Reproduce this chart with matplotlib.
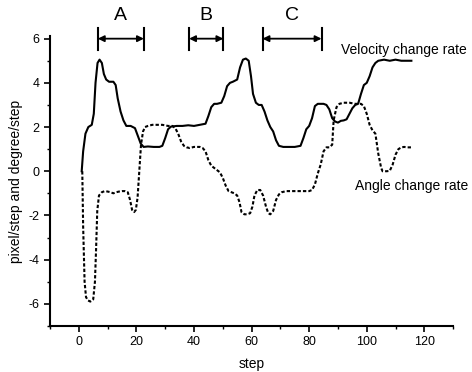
import matplotlib
matplotlib.use("Agg")
import matplotlib.pyplot as plt
from matplotlib.ticker import MultipleLocator

plt.rcParams['font.family'] = ['Liberation Sans', 'DejaVu Sans']
plt.rcParams['axes.unicode_minus'] = False

vel_x = [1, 1.5, 2.3, 3.3, 4.5, 5.2, 5.8, 6.5, 7.2, 8, 8.7, 9.5, 10.5, 12, 12.8, 13.5, 14.5, 15.5,
         16.5, 18, 19.5, 20.5, 21.5, 22.5, 24, 26, 28, 29, 30, 31, 32, 34, 36, 38, 40, 42, 44, 45,
         46, 47, 48, 49.5, 50.5, 51.5, 52.5, 53.5, 55, 56, 57, 58, 59, 59.8, 60.5, 61.5, 62.5, 63.5,
         64.5, 65.5, 66.5, 67.5, 68.5, 69.5, 71, 73, 75, 77, 78, 79, 80, 81, 82, 83, 84, 85, 86, 87,
         88, 89, 90, 91, 92, 93, 94, 95, 96, 97, 98, 99, 100, 101, 102, 103, 104, 106, 108, 110,
         112, 114, 115.5]
vel_y = [0, 0.9, 1.7, 2.0, 2.1, 2.6, 4.0, 4.9, 5.05, 4.9, 4.4, 4.15, 4.05, 4.05, 3.9, 3.3, 2.7, 2.3,
         2.05, 2.05, 1.95, 1.6, 1.25, 1.1, 1.12, 1.1, 1.1, 1.15, 1.5, 1.9, 2.02, 2.05, 2.05, 2.08,
         2.05, 2.1, 2.15, 2.5, 2.9, 3.05, 3.05, 3.1, 3.4, 3.85, 4.0, 4.05, 4.15, 4.7, 5.05, 5.1, 5.0,
         4.3, 3.5, 3.1, 3.0, 3.0, 2.7, 2.3, 2.0, 1.8, 1.4, 1.15, 1.1, 1.1, 1.1, 1.15, 1.5, 1.9, 2.05,
         2.4, 2.95, 3.05, 3.05, 3.05, 3.0, 2.8, 2.4, 2.25, 2.2, 2.28, 2.3, 2.35, 2.6, 2.85, 3.0,
         3.05, 3.5, 3.9, 4.0, 4.3, 4.7, 4.9, 5.0, 5.05, 5.0, 5.05, 5.0, 5.0, 5.0]

ang_x = [1.2, 1.5, 2, 2.5, 3.2, 4, 5, 5.6, 6, 6.4, 7, 8, 9, 10, 11, 12, 13, 14, 15, 16, 17, 17.8,
         18.5, 19.2, 19.8, 20.4, 21, 21.6, 22.3, 23, 24, 25.5, 27, 29, 31, 32.5, 33.5, 34.5, 35.5,
         36.5, 37.5, 38.5, 40, 42, 43, 44, 45, 46, 47, 48, 49, 50, 51, 52, 53, 54, 55, 55.8, 56.5,
         57.5, 58.5, 59.5, 60.3, 61, 62, 63, 64, 65, 65.8, 66.5, 67.5, 68.5, 69.5, 70.5, 72, 74, 76,
         78, 80, 81, 82, 83, 84, 85, 86, 87, 88, 88.5, 89.5, 90.5, 92, 94, 96, 98, 99, 100, 101,
         102, 103, 104, 105, 105.5, 107, 108, 109, 110, 111, 112, 113, 114, 115.5]
ang_y = [0, -2.5, -5.0, -5.7, -5.85, -5.9, -5.8, -5.0, -3.5, -1.8, -1.1, -0.95, -0.9, -0.92, -0.95,
         -1.0, -0.95, -0.92, -0.9, -0.9, -0.95, -1.3, -1.75, -1.85, -1.75, -1.2, 0.0, 1.2, 1.8, 2.0,
         2.05, 2.1, 2.1, 2.1, 2.05, 2.05, 1.95, 1.7, 1.35, 1.15, 1.08, 1.05, 1.1, 1.1, 1.05, 0.9,
         0.5, 0.25, 0.15, 0.05, -0.05, -0.3, -0.65, -0.9, -0.95, -1.0, -1.1, -1.4, -1.85, -1.95,
         -1.95, -1.9, -1.6, -1.1, -0.85, -0.85, -1.1, -1.6, -1.9, -1.95, -1.8, -1.3, -1.05, -0.95,
         -0.9, -0.9, -0.9, -0.9, -0.9, -0.85, -0.6, -0.1, 0.3, 0.9, 1.08, 1.08, 1.2, 2.3, 2.9, 3.05,
         3.1, 3.1, 3.05, 3.05, 2.95, 2.6, 2.1, 1.85, 1.7, 0.8, 0.15, 0.0, 0.0, 0.02, 0.3, 0.75,
         1.0, 1.08, 1.1, 1.08, 1.08]

segments = ['A', 'B', 'C']
seg_start = [6.6, 38.3, 63.8]
seg_end = [22.6, 50.2, 84.3]

fig = plt.figure(figsize=(4.72, 3.72), dpi=100)
ax = fig.add_axes([0.106, 0.124, 0.854, 0.778])

ax.plot(vel_x, vel_y, color='black', lw=1.5, solid_joinstyle='round')
ax.plot(ang_x, ang_y, color='black', lw=1.5, linestyle=(0, (1.6, 1.0)))

ax.set_xlim(-10, 130)
ax.set_ylim(-7, 6.1)
ax.xaxis.set_minor_locator(MultipleLocator(10))
ax.yaxis.set_minor_locator(MultipleLocator(1))
ax.set_xticks(range(0, 121, 20))
ax.set_yticks(range(-6, 7, 2))
ax.spines['top'].set_visible(False)
ax.spines['right'].set_visible(False)
for s in ['left', 'bottom']:
    ax.spines[s].set_linewidth(1.5)
ax.tick_params(which='major', direction='out', length=4, width=1.2, labelsize=9)
ax.tick_params(which='minor', direction='out', length=2, width=1)

ax.set_xlabel('step', fontsize=10, labelpad=6)
ax.set_ylabel('pixel/step and degree/step', fontsize=10, labelpad=4)

for lab, a, b in zip(segments, seg_start, seg_end):
    ax.annotate('', xy=(b, 6.0), xytext=(a, 6.0),
                arrowprops=dict(arrowstyle='<|-|>', color='black', lw=1.3,
                                mutation_scale=9, shrinkA=0, shrinkB=0),
                annotation_clip=False)
    for xv in (a, b):
        ax.plot([xv, xv], [5.5, 6.5], color='black', lw=1.5, clip_on=False)
    ax.text((a + b) / 2, 7.05, lab, ha='center', va='center', fontsize=14, clip_on=False)

ax.text(91, 5.5, 'Velocity change rate', fontsize=10, ha='left', va='center')
ax.text(96, -0.65, 'Angle change rate', fontsize=10, ha='left', va='center')

fig.savefig('out.png', dpi=100)
